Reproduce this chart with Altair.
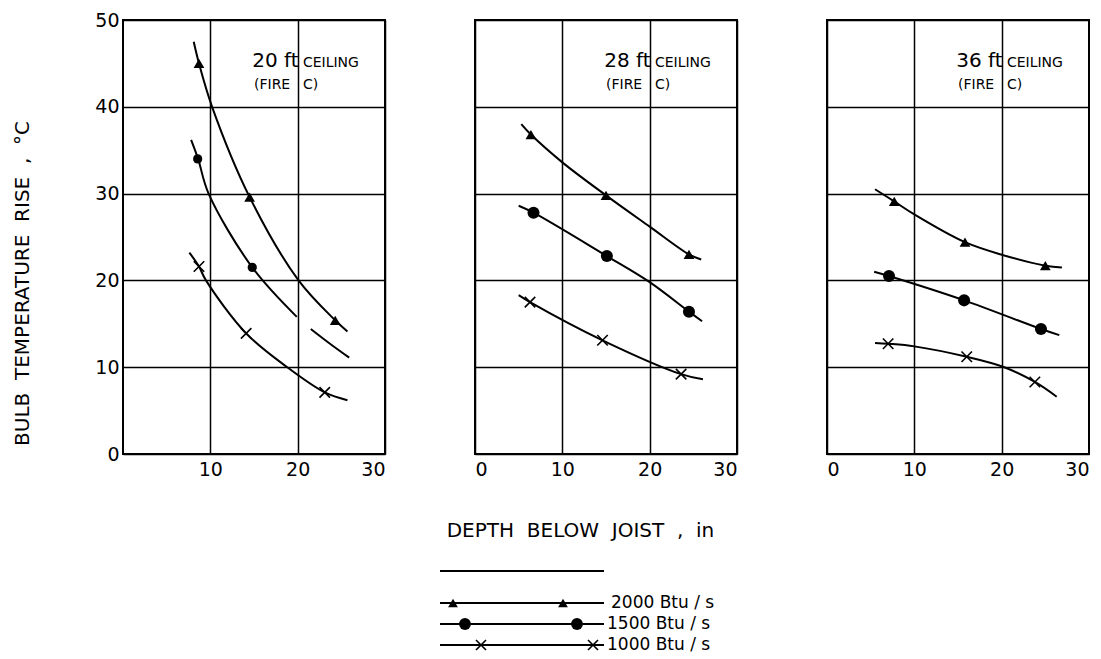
import altair as alt
import pandas as pd

# ---------------- data ----------------
panels = ["20 ft", "28 ft", "36 ft"]
series = ["2000 Btu/s", "1500 Btu/s", "1000 Btu/s"]
panel_word = "CEILING"
panel_fire = ["(FIRE", "C)"]

# fitted curves (depth in, temperature rise degC)
c20_2000_x = [8.1, 8.7, 10.2, 14.5, 20.1, 24.3, 25.7]
c20_2000_y = [47.5, 45.0, 40.0, 29.6, 20.0, 15.4, 14.1]
c20_1500a_x = [7.8, 8.6, 9.8, 14.8, 19.9]
c20_1500a_y = [36.2, 34.0, 30.0, 21.5, 15.8]
c20_1500b_x = [21.5, 23.7, 25.9]
c20_1500b_y = [14.4, 12.7, 11.1]
c20_1000_x = [7.6, 8.7, 9.5, 14.1, 18.8, 23.1, 25.7]
c20_1000_y = [23.2, 21.6, 20.0, 13.9, 10.0, 7.1, 6.2]

c28_2000_x = [5.3, 6.4, 10.0, 15.0, 20.0, 24.5, 25.9]
c28_2000_y = [38.0, 36.8, 33.6, 29.8, 26.2, 23.0, 22.4]
c28_1500_x = [5.0, 6.7, 15.1, 20.0, 24.5, 26.0]
c28_1500_y = [28.6, 27.8, 22.8, 19.8, 16.4, 15.3]
c28_1000_x = [5.0, 6.3, 14.6, 23.6, 26.1]
c28_1000_y = [18.3, 17.5, 13.1, 9.2, 8.6]

c36_2000_x = [5.5, 7.7, 10.0, 15.8, 20.2, 25.0, 26.9]
c36_2000_y = [30.5, 29.1, 27.6, 24.4, 22.9, 21.7, 21.5]
c36_1500_x = [5.4, 7.1, 15.7, 24.5, 26.6]
c36_1500_y = [21.0, 20.5, 17.7, 14.4, 13.7]
c36_1000_x = [5.5, 7.0, 10.0, 16.0, 20.3, 23.8, 26.3]
c36_1000_y = [12.8, 12.7, 12.4, 11.2, 10.0, 8.3, 6.6]

# measured points
m20_2000_x = [8.7, 14.5, 24.3]
m20_2000_y = [45.0, 29.6, 15.4]
m20_1500_x = [8.55, 14.8]
m20_1500_y = [34.0, 21.5]
m20_1000_x = [8.7, 14.1, 23.1]
m20_1000_y = [21.6, 13.9, 7.1]

m28_2000_x = [6.4, 15.0, 24.5]
m28_2000_y = [36.8, 29.8, 23.0]
m28_1500_x = [6.7, 15.1, 24.5]
m28_1500_y = [27.8, 22.8, 16.4]
m28_1000_x = [6.3, 14.6, 23.6]
m28_1000_y = [17.5, 13.1, 9.2]

m36_2000_x = [7.7, 15.8, 25.0]
m36_2000_y = [29.1, 24.4, 21.7]
m36_1500_x = [7.1, 15.7, 24.5]
m36_1500_y = [20.5, 17.7, 14.4]
m36_1000_x = [7.0, 16.0, 23.8]
m36_1000_y = [12.7, 11.2, 8.3]

x_ticks_first = [10, 20, 30]
x_ticks = [0, 10, 20, 30]
y_ticks = [0, 10, 20, 30, 40, 50]

NB = "\u00a0"
y_title = f"BULB{NB}{NB}TEMPERATURE{NB}{NB}RISE{NB}{NB},{NB}{NB}°C"
x_title = f"DEPTH{NB}{NB}BELOW{NB}{NB}JOIST{NB}{NB},{NB}{NB}in"
legend_labels = [f"2000{NB}Btu{NB}/{NB}s", f"1500{NB}Btu{NB}/{NB}s", f"1000{NB}Btu{NB}/{NB}s"]

# ---------------- tables ----------------
curve_sets = [
    (panels[0], series[0], "a", c20_2000_x, c20_2000_y),
    (panels[0], series[1], "a", c20_1500a_x, c20_1500a_y),
    (panels[0], series[1], "b", c20_1500b_x, c20_1500b_y),
    (panels[0], series[2], "a", c20_1000_x, c20_1000_y),
    (panels[1], series[0], "a", c28_2000_x, c28_2000_y),
    (panels[1], series[1], "a", c28_1500_x, c28_1500_y),
    (panels[1], series[2], "a", c28_1000_x, c28_1000_y),
    (panels[2], series[0], "a", c36_2000_x, c36_2000_y),
    (panels[2], series[1], "a", c36_1500_x, c36_1500_y),
    (panels[2], series[2], "a", c36_1000_x, c36_1000_y),
]
rows = []
for p, s, seg, xs, ys in curve_sets:
    for i, (xv, yv) in enumerate(zip(xs, ys)):
        rows.append({"panel": p, "series": s, "seg": s + seg, "ord": i, "x": xv, "y": yv})
curves = pd.DataFrame(rows)

marker_sets = [
    (panels[0], series[0], m20_2000_x, m20_2000_y),
    (panels[0], series[1], m20_1500_x, m20_1500_y),
    (panels[0], series[2], m20_1000_x, m20_1000_y),
    (panels[1], series[0], m28_2000_x, m28_2000_y),
    (panels[1], series[1], m28_1500_x, m28_1500_y),
    (panels[1], series[2], m28_1000_x, m28_1000_y),
    (panels[2], series[0], m36_2000_x, m36_2000_y),
    (panels[2], series[1], m36_1500_x, m36_1500_y),
    (panels[2], series[2], m36_1000_x, m36_1000_y),
]
rows = []
for p, s, xs, ys in marker_sets:
    for xv, yv in zip(xs, ys):
        rows.append({"panel": p, "series": s, "x": xv, "y": yv})
markers = pd.DataFrame(rows)

# ---------------- style / layout ----------------
FONT = "DejaVu Sans"
XPATH = "M-1,-1L1,1M-1,1L1,-1"
W, H = 262, 434


def panel_chart(k):
    p = panels[k]
    first = k == 0
    middle = k == 1
    if first:
        xaxis = alt.Axis(values=x_ticks_first, title=None)
        yaxis = alt.Axis(values=y_ticks, title=y_title,
                         titleX=-101, titleY=263, titleAlign="center",
                         titleBaseline="middle", titleAngle=270, titleFontSize=20)
    else:
        if middle:
            xaxis = alt.Axis(values=x_ticks, title=x_title,
                             titleX=105, titleY=76, titleAlign="center",
                             titleBaseline="middle", titleFontSize=20)
        else:
            xaxis = alt.Axis(values=x_ticks, title=None)
        yaxis = alt.Axis(values=y_ticks, labels=False, title=None)
    X = alt.X("x:Q", scale=alt.Scale(domain=[0, 30], nice=False), axis=xaxis)
    Y = alt.Y("y:Q", scale=alt.Scale(domain=[0, 50], nice=False), axis=yaxis)

    cdf = curves[curves.panel == p]
    mdf = markers[markers.panel == p]

    lines = alt.Chart(cdf).mark_line(interpolate="catmull-rom", color="black",
                                     strokeWidth=2).encode(
        x=X, y=Y, detail="seg:N", order="ord:Q")
    tri = alt.Chart(mdf[mdf.series == series[0]]).mark_point(
        shape="triangle-up", filled=True, color="black", opacity=1,
        size=115).encode(x=X, y=Y)
    circ = alt.Chart(mdf[mdf.series == series[1]]).mark_point(
        shape="circle", filled=True, color="black", opacity=1,
        size=85 if first else 145).encode(x=X, y=Y)
    crs = alt.Chart(mdf[mdf.series == series[2]]).mark_point(
        shape=XPATH, filled=False, color="black", opacity=1, strokeWidth=1.6,
        size=110).encode(x=X, y=Y)

    big = alt.Chart(pd.DataFrame({"t": [p], "x": [14.8], "y": [45.3]})).mark_text(
        align="left", baseline="middle", font=FONT, fontSize=20, color="black"
    ).encode(x=X, y=Y, text="t:N")
    small = alt.Chart(pd.DataFrame({
        "t": [panel_word, panel_fire[0], panel_fire[1]],
        "x": [20.6, 15.0, 20.6],
        "y": [45.1, 42.5, 42.5]})).mark_text(
        align="left", baseline="middle", font=FONT, fontSize=14, color="black"
    ).encode(x=X, y=Y, text="t:N")

    layers = [lines, tri, circ, crs, big, small]

    if middle:
        one = pd.DataFrame({"t": [""]})
        layers.append(alt.Chart(one).mark_rule(color="black", strokeWidth=2).encode(
            x=alt.value(-35), x2=alt.value(129), y=alt.value(551)))
        leg_rows = [
            (legend_labels[0], 583, "triangle-up", [-22, 88], 136, True, 95),
            (legend_labels[1], 604, "circle", [-10, 102], 132, True, 140),
            (legend_labels[2], 625, XPATH, [6, 118], 132, False, 100),
        ]
        for lab, yy, shp, xs, tx, fil, sz in leg_rows:
            layers.append(alt.Chart(one).mark_rule(color="black", strokeWidth=1.8).encode(
                x=alt.value(-35), x2=alt.value(129), y=alt.value(yy)))
            for xv in xs:
                if fil:
                    mk = alt.Chart(one).mark_point(shape=shp, filled=True, color="black",
                                                   opacity=1, size=sz)
                else:
                    mk = alt.Chart(one).mark_point(shape=shp, filled=False, color="black",
                                                   opacity=1, size=sz, strokeWidth=1.6)
                layers.append(mk.encode(x=alt.value(xv), y=alt.value(yy)))
            layers.append(alt.Chart(pd.DataFrame({"t": [lab]})).mark_text(
                align="left", baseline="middle", font=FONT, fontSize=17, color="black"
            ).encode(x=alt.value(tx), y=alt.value(yy), text="t:N"))

    return alt.layer(*layers).properties(width=W, height=H)


chart = alt.hconcat(
    panel_chart(0), panel_chart(1), panel_chart(2), spacing=90, bounds="flush"
).properties(
    padding={"left": 3, "top": 2, "right": 0, "bottom": 0},
    background="white",
).configure_view(
    stroke="black", strokeWidth=2
).configure_axis(
    grid=True, gridColor="black", gridWidth=1.5, gridOpacity=1,
    domain=False, ticks=False,
    labelFont=FONT, labelFontSize=19, labelColor="black",
    titleFont=FONT, titleFontSize=18, titleColor="black", titleFontWeight="normal",
).configure_axisX(labelPadding=6).configure_axisY(labelPadding=4)

chart.save("out.html", embed_options={"renderer": "svg", "actions": False})
